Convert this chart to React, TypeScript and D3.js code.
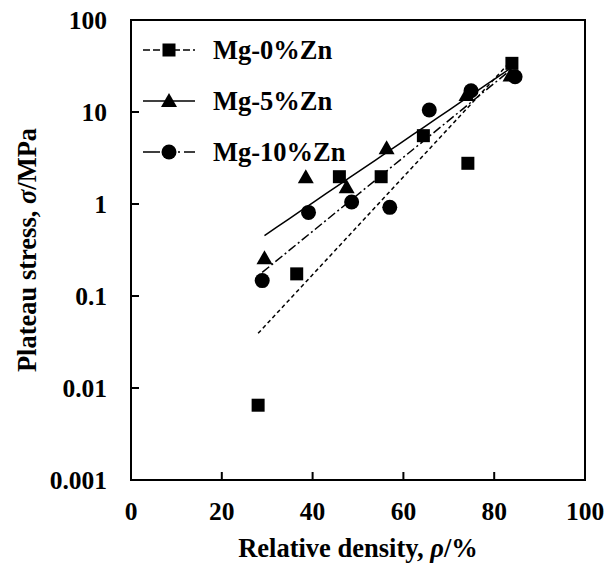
import React from "react";
import * as d3 from "d3";

const seriesNames = ["Mg-0%Zn", "Mg-5%Zn", "Mg-10%Zn"];
const zn0X = [28.0, 36.5, 45.9, 55.1, 64.4, 74.2, 83.9];
const zn0Y = [0.0065, 0.174, 1.98, 1.98, 5.53, 2.77, 33.8];
const zn5X = [29.4, 38.5, 47.5, 56.3, 73.9, 83.6];
const zn5Y = [0.257, 1.95, 1.52, 4.03, 15.3, 25];
const zn10X = [28.9, 39.1, 48.6, 57.0, 65.7, 74.9, 84.6];
const zn10Y = [0.147, 0.81, 1.05, 0.92, 10.5, 17.0, 24.2];
const xTicks = [0, 20, 40, 60, 80, 100];
const yTicks = [0.001, 0.01, 0.1, 1, 10, 100];
const yTickLabels = ["0.001", "0.01", "0.1", "1", "10", "100"];

const W = 608, H = 564;
const L = 131, R = 585, T = 20, B = 480;
const FONT = "'Liberation Serif', 'Times New Roman', serif";

const x = d3.scaleLinear().domain([0, 100]).range([L, R]);
const y = d3.scaleLog().domain([0.001, 100]).range([B, T]);

function fit(xs: number[], ys: number[]) {
  const ly = ys.map((v) => Math.log10(v));
  const mx = d3.mean(xs)!;
  const my = d3.mean(ly)!;
  let sxy = 0, sxx = 0;
  xs.forEach((xi, i) => {
    sxy += (xi - mx) * (ly[i] - my);
    sxx += (xi - mx) * (xi - mx);
  });
  const b = sxy / sxx;
  const a = my - b * mx;
  const [x0, x1] = d3.extent(xs) as [number, number];
  const pts: [number, number][] = d3.range(0, 21).map((k) => {
    const xv = x0 + ((x1 - x0) * k) / 20;
    return [xv, Math.pow(10, a + b * xv)];
  });
  return pts;
}

const series = [
  { name: seriesNames[0], xs: zn0X, ys: zn0Y, marker: "square", dash: "4,3" },
  { name: seriesNames[1], xs: zn5X, ys: zn5Y, marker: "triangle", dash: "" },
  { name: seriesNames[2], xs: zn10X, ys: zn10Y, marker: "circle", dash: "9,3,2,3" },
];

function Marker({ type, cx, cy }: { type: string; cx: number; cy: number }) {
  if (type === "square") return <rect x={cx - 6.5} y={cy - 6.5} width={13} height={13} fill="#000" />;
  if (type === "triangle")
    return <path d={`M${cx},${cy - 8} L${cx + 8},${cy + 6} L${cx - 8},${cy + 6} Z`} fill="#000" />;
  return <circle cx={cx} cy={cy} r={7.5} fill="#000" />;
}

const line = d3
  .line<[number, number]>()
  .x((d) => x(d[0]))
  .y((d) => y(d[1]));

export default function App() {
  return (
    <svg
      width={W}
      height={H}
      style={{ position: "absolute", left: 0, top: 0, background: "#fff" }}
      fontFamily={FONT}
      fontWeight="bold"
    >
      <rect x={0} y={0} width={W} height={H} fill="#fff" />
      {series.map((s) => (
        <path
          key={s.name + "fit"}
          d={line(fit(s.xs, s.ys)) || ""}
          fill="none"
          stroke="#000"
          strokeWidth={1.5}
          strokeDasharray={s.dash || undefined}
        />
      ))}
      {series.map((s) =>
        s.xs.map((xv, i) => <Marker key={s.name + i} type={s.marker} cx={x(xv)} cy={y(s.ys[i])} />)
      )}
      <rect x={L} y={T} width={R - L} height={B - T} fill="none" stroke="#000" strokeWidth={2} />
      {yTicks.map((t, i) => (
        <g key={"yt" + t}>
          <line x1={L} x2={L + 8} y1={y(t)} y2={y(t)} stroke="#000" strokeWidth={2} />
          <text x={107} y={y(t)} dy="0.35em" textAnchor="end" fontSize={25.5}>
            {yTickLabels[i]}
          </text>
        </g>
      ))}
      {xTicks.map((t) => (
        <g key={"xt" + t}>
          <line x1={x(t)} x2={x(t)} y1={B} y2={B - 8} stroke="#000" strokeWidth={2} />
          <text x={x(t)} y={520} textAnchor="middle" fontSize={25.5}>
            {t}
          </text>
        </g>
      ))}
      <text x={(L + R) / 2} y={557} textAnchor="middle" fontSize={26.5}>
        Relative density, <tspan fontStyle="italic">ρ</tspan>/%
      </text>
      <text transform={`translate(36,${(T + B) / 2}) rotate(-90)`} textAnchor="middle" fontSize={26.5}>
        Plateau stress, <tspan fontStyle="italic">σ</tspan>/MPa
      </text>
      {series.map((s, i) => {
        const cy = 50 + i * 51;
        return (
          <g key={"lg" + s.name}>
            <line
              x1={143}
              x2={195}
              y1={cy}
              y2={cy}
              stroke="#000"
              strokeWidth={1.5}
              strokeDasharray={s.dash ? (s.marker === "circle" ? "17,12,2,4,2,4" : "7,3") : undefined}
            />
            <Marker type={s.marker} cx={169} cy={cy} />
            <text x={213} y={cy} dy="0.35em" fontSize={26.5}>
              {s.name}
            </text>
          </g>
        );
      })}
    </svg>
  );
}
